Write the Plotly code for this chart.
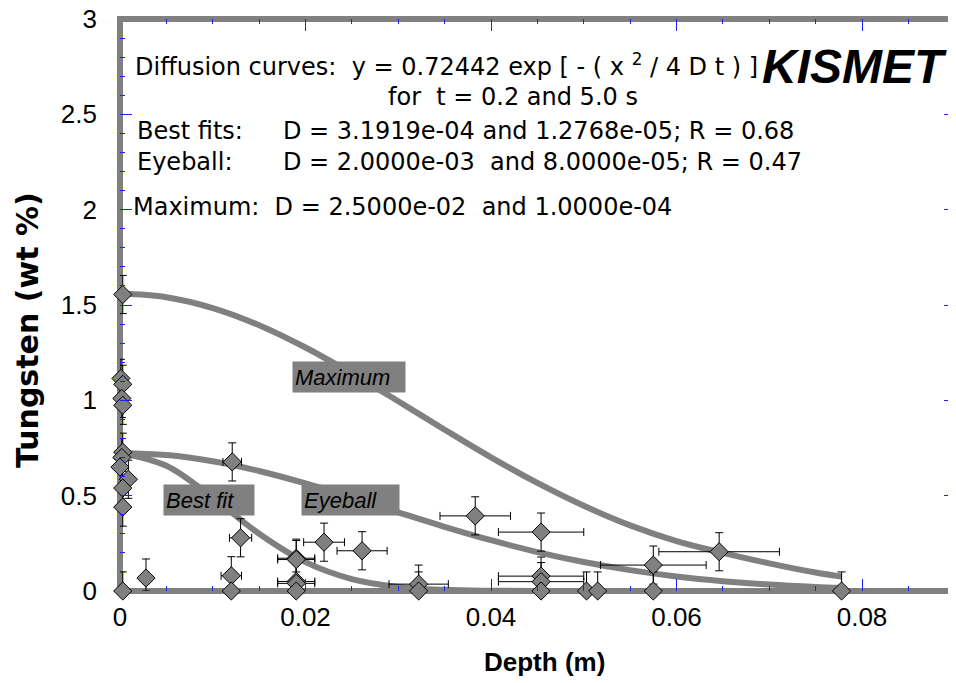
import plotly.graph_objects as go

# ---- measured data (Depth m, Tungsten wt %) ----
depth = [0.0003, 0.0001, 0.0003, 0.0002, 0.0003, 0.0003, 0.0002, 0.0000, 0.0009, 0.0003,
         0.0003, 0.0028, 0.0003, 0.0121, 0.0130, 0.0120, 0.0120, 0.0190, 0.0190, 0.0190,
         0.0190, 0.0190, 0.0220, 0.0261, 0.0322, 0.0322, 0.0383, 0.0454, 0.0454, 0.0454,
         0.0454, 0.0503, 0.0515, 0.0575, 0.0575, 0.0646, 0.0778]
tungsten = [1.555, 1.115, 1.084, 1.010, 0.974, 0.728, 0.700, 0.650, 0.586, 0.540,
            0.440, 0.068, 0.000, 0.677, 0.279, 0.080, 0.000, 0.172, 0.165, 0.050,
            0.040, 0.000, 0.256, 0.211, 0.036, 0.000, 0.394, 0.309, 0.078, 0.049,
            0.000, 0.000, 0.000, 0.136, 0.000, 0.206, 0.000]
depth_err = [0, 0, 0, 0, 0, 0, 0, 0, 0, 0,
             0, 0.0003, 0, 0.0010, 0.0012, 0.0011, 0, 0.0020, 0.0020, 0.0020,
             0.0020, 0, 0.0022, 0.0027, 0.0032, 0, 0.0038, 0.0046, 0.0046, 0.0046,
             0, 0, 0, 0.0057, 0, 0.0065, 0]
w_err_plus = [0.1] * 37
w_err_minus = [0.1, 0.1, 0.1, 0.1, 0.1, 0.1, 0.1, 0.1, 0.1, 0.1,
               0.1, 0.068, 0, 0.1, 0.1, 0.08, 0, 0.1, 0.1, 0.05,
               0.04, 0, 0.1, 0.1, 0.036, 0, 0.1, 0.1, 0.078, 0.049,
               0, 0, 0, 0.1, 0, 0.1, 0]

# ---- diffusion curves, sampled ----
curve_x = [0.0, 0.005, 0.010, 0.015, 0.020, 0.025, 0.030, 0.035, 0.040, 0.045,
           0.050, 0.055, 0.060, 0.065, 0.070, 0.075, 0.0778]
curve_max = [1.560, 1.541, 1.484, 1.394, 1.277, 1.141, 0.995, 0.846, 0.701, 0.567,
             0.447, 0.344, 0.262, 0.200, 0.145, 0.097, 0.076]
curve_eye = [0.7244, 0.7132, 0.6805, 0.6294, 0.5642, 0.4901, 0.4128, 0.3369, 0.2665, 0.2043,
             0.1518, 0.1094, 0.0764, 0.0517, 0.0339, 0.0215, 0.0165]
curve_best = [0.7244, 0.6568, 0.4897, 0.3001, 0.1513, 0.0627, 0.0213, 0.0060, 0.0014, 0.0003,
              0.0, 0.0, 0.0, 0.0, 0.0, 0.0, 0.0]

x_ticks = [0, 0.02, 0.04, 0.06, 0.08]
x_tick_text = ["0", "0.02", "0.04", "0.06", "0.08"]
y_ticks = [0, 0.5, 1, 1.5, 2, 2.5, 3]
y_tick_text = ["0", "0.5", "1", "1.5", "2", "2.5", "3"]

GRAY = "#808080"
TXT = "DejaVu Sans"
ARIAL = "Arial, Liberation Sans, sans-serif"
TICKC = "#2020ff"

fig = go.Figure()
for cy in (curve_max, curve_eye, curve_best):
    fig.add_trace(go.Scatter(x=curve_x, y=cy, mode="lines",
                             line=dict(color=GRAY, width=6, shape="spline"),
                             showlegend=False, hoverinfo="skip"))

fig.add_trace(go.Scatter(
    x=depth, y=tungsten, mode="markers", cliponaxis=False, showlegend=False,
    marker=dict(symbol="diamond", size=14, color=GRAY, line=dict(color="black", width=1)),
    error_x=dict(type="data", array=depth_err, color="black", thickness=1, width=4),
    error_y=dict(type="data", symmetric=False, array=w_err_plus, arrayminus=w_err_minus,
                 color="black", thickness=1, width=4),
))

# page has an 8px body margin: work in page pixels, convert to figure pixels
OFF = 8
PL, PR_, PT, PB = 120, 956, 19, 591          # plot area in page pixels
W = PR_ - OFF                                 # 948
H = 683 - OFF                                 # 675
L = PL - OFF
T = PT - OFF
B = H - (PB - OFF)
pw = PR_ - PL
ph = PB - PT
XS = 9275.0
xmax = pw / XS

axis_common = dict(showgrid=False, zeroline=False, showline=False, ticks="inside",
                   mirror="ticks", tickcolor=TICKC, tickwidth=1, ticklen=12,
                   ticklabeloverflow="allow",
                   tickfont=dict(family=ARIAL, size=26, color="black"))
fig.update_xaxes(range=[0, xmax], tickvals=x_ticks, ticktext=x_tick_text,
                 ticklabelstandoff=8,
                 minor=dict(dtick=0.005, tick0=0, ticks="inside", ticklen=5, tickcolor=TICKC, tickwidth=1),
                 **axis_common)
fig.update_yaxes(range=[0, 3], tickvals=y_ticks, ticktext=y_tick_text,
                 ticklabelstandoff=22,
                 minor=dict(dtick=0.1, tick0=0, ticks="inside", ticklen=5, tickcolor=TICKC, tickwidth=1),
                 **axis_common)

ex = 3.0 / pw
ey = 3.0 / ph
shapes = [
    dict(type="line", xref="paper", yref="paper", x0=0, x1=0, y0=-ey, y1=1 + ey,
         line=dict(color=GRAY, width=6), layer="below"),
    dict(type="line", xref="paper", yref="paper", x0=-ex, x1=1.02, y0=0, y1=0,
         line=dict(color=GRAY, width=6), layer="below"),
    dict(type="line", xref="paper", yref="paper", x0=-ex, x1=1.02, y0=1, y1=1,
         line=dict(color=GRAY, width=6), layer="below"),
]

def px2x(p):
    return (p - PL) / XS

def py2y(p):
    return (PB - p) * 3.0 / ph

NB = "\u00a0"
ann = []
def txt(text, xp, yp, size=24, family=TXT, xanchor="left", **kw):
    ann.append(dict(text=text, x=px2x(xp), y=py2y(yp), xref="x", yref="y",
                    xanchor=xanchor, yanchor="middle", showarrow=False,
                    font=dict(family=family, size=size, color="black"), **kw))

txt("Diffusion curves:" + NB * 2 + "y = 0.72442 exp [ - ( x <sup>2</sup> / 4 D t ) ]", 133, 65)
txt("<b><i>KISMET</i></b>", 949, 66, size=48, family=ARIAL, xanchor="right")
txt("for" + NB * 2 + "t = 0.2 and 5.0 s", 386, 97)
txt("Best fits:", 135, 131)
txt("D = 3.1919e-04 and 1.2768e-05; R = 0.68", 281, 131)
txt("Eyeball:", 135, 162)
txt("D = 2.0000e-03" + NB * 2 + "and 8.0000e-05; R = 0.47", 281, 162)
txt("Maximum:" + NB * 2 + "D = 2.5000e-02" + NB * 2 + "and 1.0000e-04", 131, 207)

# curve labels (box left edge, box centre y, box width in px)
for label, xl, yc, bw in (("Maximum", 292, 377, 112), ("Eyeball", 301, 500, 97), ("Best fit", 163, 500, 90)):
    ann.append(dict(text="<i>" + label + "</i>", x=px2x(xl), y=py2y(yc), xref="x", yref="y",
                    xanchor="left", yanchor="middle", showarrow=False, bgcolor=GRAY,
                    borderpad=2, width=bw - 4, height=26, align="left",
                    font=dict(family=ARIAL, size=22, color="black")))

# axis titles
ann.append(dict(text="<b>Depth (m)</b>", x=(544 - PL) / pw, y=-(662 - PB) / ph,
                xref="paper", yref="paper", xanchor="center", yanchor="middle", showarrow=False,
                font=dict(family=ARIAL, size=26, color="black")))
ann.append(dict(text="<b>Tungsten (wt %)</b>", x=(27 - PL) / pw, y=(PB - 330) / ph,
                xref="paper", yref="paper", xanchor="center", yanchor="middle", showarrow=False,
                textangle=-90, font=dict(family="DejaVu Sans", size=30, color="black")))

fig.update_layout(width=W, height=H, margin=dict(l=L, r=0, t=T, b=B, autoexpand=False),
                  paper_bgcolor="white", plot_bgcolor="white", shapes=shapes, annotations=ann,
                  showlegend=False)

fig.write_html("out.html")
